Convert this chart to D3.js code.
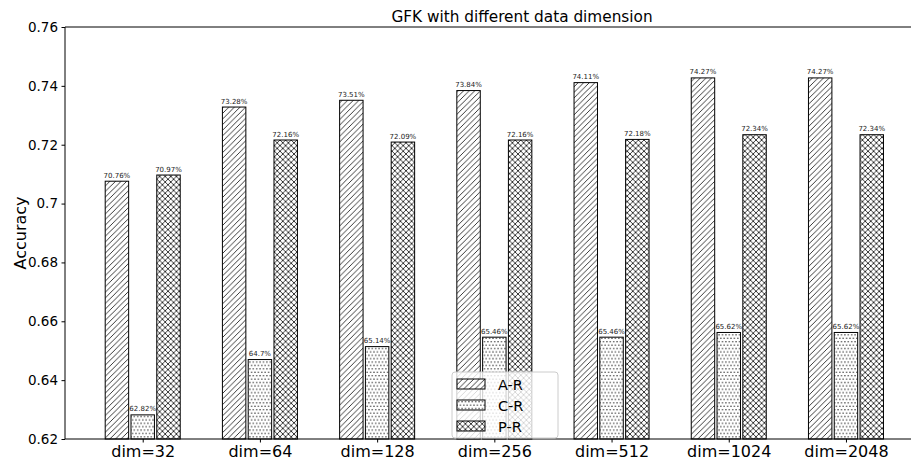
<!DOCTYPE html>
<html>
<head>
<meta charset="utf-8">
<script src="https://cdn.jsdelivr.net/npm/d3@7/dist/d3.min.js"></script>
<style>
  html, body { margin: 0; padding: 0; background: #fff; }
  svg { display: block; font-family: "DejaVu Sans", sans-serif; }
</style>
</head>
<body>
<svg id="chart" width="911" height="461"></svg>
<script>
// Accuracy of GFK for each feature dimension, per transfer task
const categories = ["dim=32", "dim=64", "dim=128", "dim=256", "dim=512", "dim=1024", "dim=2048"];
const seriesNames = ["A-R", "C-R", "P-R"];
const valuesAR = [70.76, 73.28, 73.51, 73.84, 74.11, 74.27, 74.27];
const valuesCR = [62.82, 64.7, 65.14, 65.46, 65.46, 65.62, 65.62];
const valuesPR = [70.97, 72.16, 72.09, 72.16, 72.18, 72.34, 72.34];
const yTicks = [0.62, 0.64, 0.66, 0.68, 0.7, 0.72, 0.74, 0.76];

const series = [
  { name: seriesNames[0], values: valuesAR, pattern: "hatchDiag" },
  { name: seriesNames[1], values: valuesCR, pattern: "hatchDots" },
  { name: seriesNames[2], values: valuesPR, pattern: "hatchCross" }
];

const svg = d3.select("#chart");
const plot = { left: 65, right: 979, top: 27, bottom: 439 };

// Hatch patterns
const defs = svg.append("defs");
const diag = defs.append("pattern").attr("id", "hatchDiag")
  .attr("patternUnits", "userSpaceOnUse").attr("width", 5.6).attr("height", 5.6);
diag.append("rect").attr("width", 5.6).attr("height", 5.6).attr("fill", "#fff");
diag.append("path").attr("d", "M-1.4,1.4 L1.4,-1.4 M0,5.6 L5.6,0 M4.2,7 L7,4.2")
  .attr("stroke", "#222").attr("stroke-width", 0.9);

const dots = defs.append("pattern").attr("id", "hatchDots")
  .attr("patternUnits", "userSpaceOnUse").attr("width", 3.4).attr("height", 6.8);
dots.append("rect").attr("width", 3.4).attr("height", 6.8).attr("fill", "#fff");
[[1.7, 1.7], [0, 5.1], [3.4, 5.1]].forEach(([cx, cy]) =>
  dots.append("circle").attr("cx", cx).attr("cy", cy).attr("r", 0.7).attr("fill", "#222"));

const cross = defs.append("pattern").attr("id", "hatchCross")
  .attr("patternUnits", "userSpaceOnUse").attr("width", 5.6).attr("height", 5.6);
cross.append("rect").attr("width", 5.6).attr("height", 5.6).attr("fill", "#fff");
cross.append("path").attr("d",
  "M-1.4,1.4 L1.4,-1.4 M0,5.6 L5.6,0 M4.2,7 L7,4.2 " +
  "M-1.4,4.2 L1.4,7 M0,0 L5.6,5.6 M4.2,-1.4 L7,1.4")
  .attr("stroke", "#222").attr("stroke-width", 0.9);

// Scales
const x = d3.scaleLinear().domain([-0.663, 7.135]).range([plot.left, plot.right]);
const y = d3.scaleLinear().domain([0.62, 0.76]).range([plot.bottom, plot.top]);
const barW = 0.2, step = 0.22;

// Bars with value labels
series.forEach((s, si) => {
  const off = (si - 1) * step;
  const g = svg.append("g");
  g.selectAll("rect").data(s.values).join("rect")
    .attr("x", (d, i) => x(i + off - barW / 2))
    .attr("width", x(barW) - x(0))
    .attr("y", d => y(d / 100))
    .attr("height", d => y(0.62) - y(d / 100))
    .attr("fill", `url(#${s.pattern})`)
    .attr("stroke", "#000").attr("stroke-width", 1);
  g.selectAll("text").data(s.values).join("text")
    .attr("x", (d, i) => x(i + off))
    .attr("y", d => y(d / 100) - 3.5)
    .attr("text-anchor", "middle")
    .attr("font-size", 7).attr("fill", "#222")
    .text(d => d + "%");
});

// Axes
const yAxis = d3.axisLeft(y).tickValues(yTicks).tickSize(3.5).tickPadding(3.5)
  .tickFormat(d => d3.format("")(+d.toFixed(2)));
const gy = svg.append("g").attr("transform", `translate(${plot.left},0)`).call(yAxis);
gy.select(".domain").remove();
gy.selectAll("text").attr("font-size", 13.5).attr("fill", "#000").attr("font-family", "DejaVu Sans");
gy.selectAll("line").attr("stroke", "#000");

const xAxis = d3.axisBottom(x).tickValues(d3.range(categories.length))
  .tickSize(3.5).tickPadding(3.5).tickFormat(i => categories[i]);
const gx = svg.append("g").attr("transform", `translate(0,${plot.bottom})`).call(xAxis);
gx.select(".domain").remove();
gx.selectAll("text").attr("font-size", 16).attr("fill", "#000").attr("font-family", "DejaVu Sans");
gx.selectAll("line").attr("stroke", "#000");

// Spines
svg.append("line").attr("x1", plot.left).attr("x2", plot.left)
  .attr("y1", plot.top).attr("y2", plot.bottom).attr("stroke", "#000");
svg.append("line").attr("x1", plot.left).attr("x2", plot.right)
  .attr("y1", plot.top).attr("y2", plot.top).attr("stroke", "#000");
svg.append("line").attr("x1", plot.left).attr("x2", plot.right)
  .attr("y1", plot.bottom).attr("y2", plot.bottom).attr("stroke", "#000");

// Title and axis label
svg.append("text").attr("x", (plot.left + plot.right) / 2).attr("y", 22)
  .attr("text-anchor", "middle").attr("font-size", 15.3).text("GFK with different data dimension");
svg.append("text").attr("transform", `translate(26,${(plot.top + plot.bottom) / 2}) rotate(-90)`)
  .attr("text-anchor", "middle").attr("font-size", 16).text("Accuracy");

// Legend
const lg = svg.append("g").attr("transform", "translate(452,372)");
lg.append("rect").attr("width", 106).attr("height", 66).attr("rx", 3)
  .attr("fill", "#fff").attr("fill-opacity", 0.8).attr("stroke", "#ccc");
series.forEach((s, i) => {
  const row = lg.append("g").attr("transform", `translate(5,${7 + i * 21})`);
  row.append("rect").attr("width", 28).attr("height", 10)
    .attr("fill", `url(#${s.pattern})`).attr("stroke", "#000");
  row.append("text").attr("x", 41).attr("y", 10.5).attr("font-size", 14.5).text(s.name);
});
</script>
</body>
</html>
